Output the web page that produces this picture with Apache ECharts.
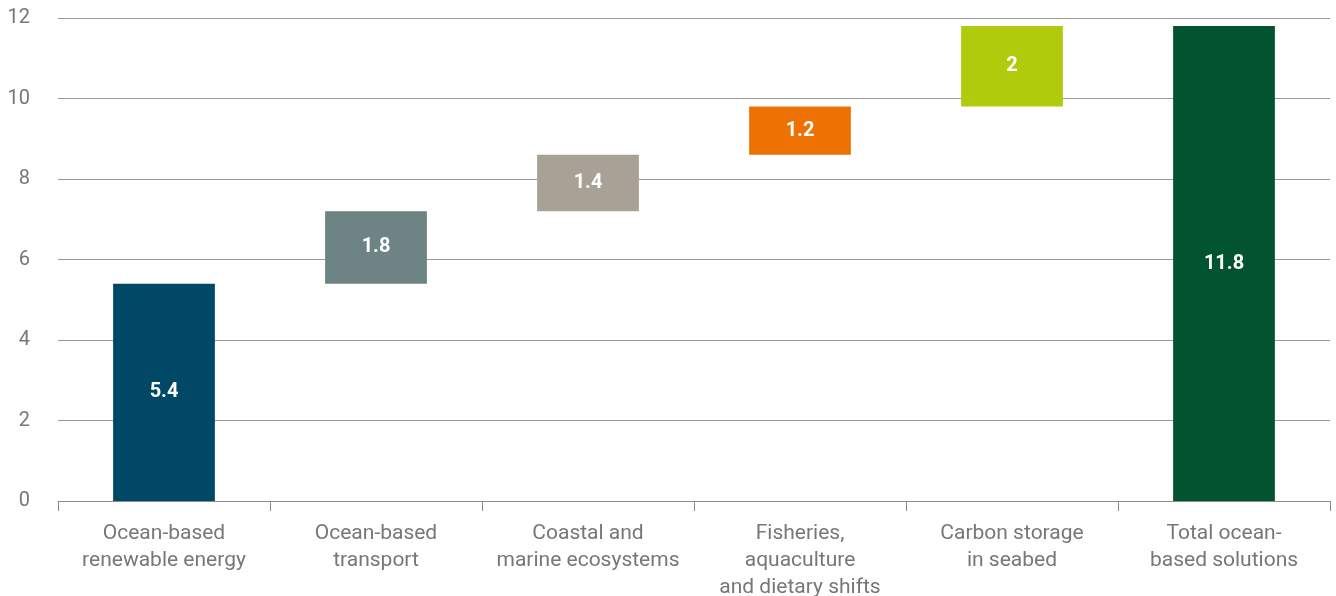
<!DOCTYPE html>
<html>
<head>
<meta charset="utf-8">
<script src="https://cdn.jsdelivr.net/npm/echarts@6/dist/echarts.min.js"></script>
<style>
  html, body { margin: 0; padding: 0; background: #fff; }
  #chart { width: 1336px; height: 596px; }
</style>
</head>
<body>
<div id="chart"></div>
<script>
const categories = [
  "Ocean-based\nrenewable energy",
  "Ocean-based\ntransport",
  "Coastal and\nmarine ecosystems",
  "Fisheries,\naquaculture\nand dietary shifts",
  "Carbon storage\nin seabed",
  "Total ocean-\nbased solutions",
];
const values = [5.4, 1.8, 1.4, 1.2, 2, 11.8];
const barColors = ["#004866", "#6e8384", "#aaa196", "#ee7203", "#b0cb0b", "#02542f"];

// waterfall: each step sits on the running total, the last bar is the total
const bases = [];
let running = 0;
values.forEach((v, i) => {
  if (i === values.length - 1) {
    bases.push(0);
  } else {
    bases.push(running);
    running += v;
  }
});

const chart = echarts.init(document.getElementById("chart"), undefined, { renderer: "canvas" });

chart.setOption({
  animation: false,
  backgroundColor: "#fff",
  textStyle: { fontFamily: "Roboto, 'Liberation Sans', sans-serif" },
  grid: { left: 58, right: 6, top: 18, bottom: 95, containLabel: false, outerBoundsMode: "none" },
  xAxis: {
    type: "category",
    data: categories,
    axisLine: { show: true, lineStyle: { color: "#8c8c8c", width: 1 } },
    axisTick: { show: true, length: 10, alignWithLabel: false, lineStyle: { color: "#8c8c8c" } },
    axisLabel: {
      color: "#777",
      fontSize: 21,
      lineHeight: 27,
      margin: 19,
      interval: 0,
      align: "center",
    },
  },
  yAxis: {
    type: "value",
    min: 0,
    max: 12,
    interval: 2,
    axisLine: { show: false },
    axisTick: { show: false },
    axisLabel: { color: "#777", fontSize: 20, margin: 28 },
    splitLine: { lineStyle: { color: "#9a9a9a", width: 1 } },
  },
  series: [
    {
      type: "bar",
      stack: "wf",
      barWidth: "48%",
      itemStyle: { color: "transparent" },
      emphasis: { disabled: true },
      data: bases,
    },
    {
      type: "bar",
      stack: "wf",
      barWidth: "48%",
      data: values.map((v, i) => ({ value: v, itemStyle: { color: barColors[i] } })),
      label: {
        show: true,
        position: "inside",
        color: "#fff",
        fontSize: 20,
        fontWeight: "bold",
      },
    },
  ],
});
</script>
</body>
</html>
